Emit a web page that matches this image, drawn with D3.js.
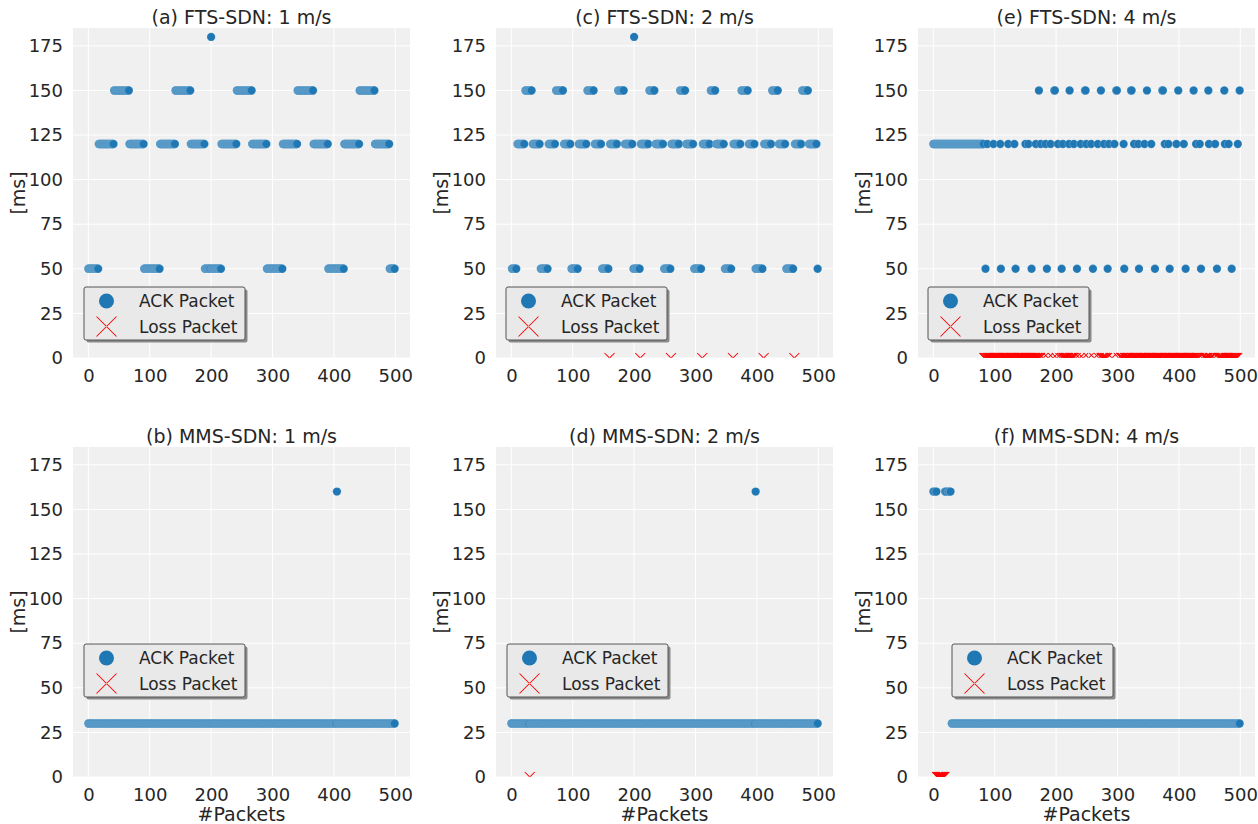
<!DOCTYPE html>
<html>
<head>
<meta charset="utf-8">
<script src="https://cdn.jsdelivr.net/npm/d3@7"></script>
<style>
  body { margin: 0; background: #fff; }
  text { font-family: "DejaVu Sans", sans-serif; fill: #262626; }
</style>
</head>
<body>
<svg id="chart" width="1258" height="824"></svg>
<script>
// tick values
const xTicks = [0, 100, 200, 300, 400, 500];
const yTicks = [0, 25, 50, 75, 100, 125, 150, 175];

const titles = ["(a) FTS-SDN: 1 m/s", "(b) MMS-SDN: 1 m/s",
                "(c) FTS-SDN: 2 m/s", "(d) MMS-SDN: 2 m/s",
                "(e) FTS-SDN: 4 m/s", "(f) MMS-SDN: 4 m/s"];
const legendLabels = ["ACK Packet", "Loss Packet"];

// ACK packets as runs of packet index: [first, last, ms]
const ftsA_ack = [[0,16,50],[17,41,120],[42,66,150],[67,90,120],[91,116,50],[117,141,120],
  [142,166,150],[167,189,120],[190,199,50],[200,200,180],[201,216,50],[217,241,120],
  [242,266,150],[267,290,120],[291,316,50],[317,340,120],[341,366,150],[367,390,120],
  [391,416,50],[417,441,120],[442,466,150],[467,490,120],[491,499,50]];
const ftsA_loss = [];

const ftsB_ack = [[1,8,50],[10,21,120],[23,33,150],[35,46,120],[48,59,50],[61,71,120],
  [73,84,150],[86,96,120],[98,108,50],[110,122,120],[124,134,150],[136,146,120],
  [148,158,50],[161,172,120],[174,183,150],[185,197,120],[199,199,50],[200,200,180],
  [201,209,50],[211,223,120],[225,233,150],[235,247,120],[249,259,50],[261,273,120],
  [275,283,150],[285,296,120],[298,309,50],[312,323,120],[325,332,150],[334,346,120],
  [348,358,50],[362,373,120],[375,385,150],[387,396,120],[398,409,50],[412,423,120],
  [425,434,150],[436,446,120],[448,459,50],[462,472,120],[474,483,150],[485,497,120],
  [499,499,50]];
const ftsB_loss = [160, 210, 260, 311, 361, 411, 461];

const ftsC_ack = [[0,82,120]];
const ftsC_dots120 = [88,98,109,122,132,150,155,167,175,183,191,203,211,221,229,240,249,
  257,268,278,286,295,310,327,334,344,355,377,383,396,408,428,434,449,459,475,481,496];
const ftsC_dots150 = [172,197,198,222,247,248,273,298,299,322,323,348,373,374,399,424,448,474,499];
const ftsC_dots50 = [85,110,134,160,185,209,234,260,284,311,335,361,385,411,436,462,486];
const ftsC_lossRuns = [[83,174],[209,228],[273,281],[306,432],[442,453],[466,495]];
const ftsC_lossDots = [179,187,195,201,207,232,238,244,253,262,270,283,291,302,438,457,464];

const mmsA_ack = [[0,404,30],[405,405,160],[406,499,30]];
const mmsA_loss = [];

const mmsB_ack = [[0,29,30],[31,397,30],[398,398,160],[399,499,30]];
const mmsB_loss = [30];

const mmsC_ack = [[0,1,160],[4,5,160],[19,21,160],[24,25,160],[27,28,160],[30,499,30]];
const mmsC_lossRuns = [[6,18]];

// layout
const W = 337, H = 330;
const colLeft = [73, 496, 918];
const rowTop = [28, 447];
const legendPos = [[11,259],[11,197],[10,259],[11,197],[10,259],[34,197]];

function expandRuns(runs) {
  return runs.flatMap(r => d3.range(r[0], r[1] + 1).map(i => ({i: i, ms: r[2]})));
}
function dots(list, ms) {
  return list.map(i => ({i: i, ms: ms}));
}
function lossFrom(runs, extra, ack) {
  const taken = new Set(ack.map(d => d.i));
  const out = runs.flatMap(r => d3.range(r[0], r[1] + 1)).filter(i => !taken.has(i));
  return out.concat(extra).sort((a, b) => a - b);
}

const ackC = expandRuns(ftsC_ack).concat(dots(ftsC_dots120, 120), dots(ftsC_dots150, 150), dots(ftsC_dots50, 50));

const panels = [
  {ack: expandRuns(ftsA_ack), loss: ftsA_loss},
  {ack: expandRuns(mmsA_ack), loss: mmsA_loss},
  {ack: expandRuns(ftsB_ack), loss: ftsB_loss},
  {ack: expandRuns(mmsB_ack), loss: mmsB_loss},
  {ack: ackC, loss: lossFrom(ftsC_lossRuns, ftsC_lossDots, ackC)},
  {ack: expandRuns(mmsC_ack), loss: lossFrom(mmsC_lossRuns, [], expandRuns(mmsC_ack))}
];

const svg = d3.select("#chart");

const x = d3.scaleLinear().domain([-25, 524]).range([0, W]);
const y = d3.scaleLinear().domain([0, 185]).range([H, 0]);

// "x" marker of half-size s, as two thin filled bars
function xPath(s, w) {
  const p = d3.path();
  const h = w / 2 / Math.SQRT2;
  p.moveTo(-s - h, -s + h); p.lineTo(-s + h, -s - h); p.lineTo(s + h, s - h); p.lineTo(s - h, s + h); p.closePath();
  p.moveTo(-s - h, s - h); p.lineTo(-s + h, s + h); p.lineTo(s + h, -s + h); p.lineTo(s - h, -s - h); p.closePath();
  return p.toString();
}

panels.forEach((p, k) => {
  const col = Math.floor(k / 2), row = k % 2;
  const g = svg.append("g")
    .attr("transform", `translate(${colLeft[col]}, ${rowTop[row]})`);

  g.append("rect").attr("width", W).attr("height", H).attr("fill", "#f0f0f0");

  // grid
  g.append("g").selectAll("line").data(xTicks).join("line")
    .attr("x1", d => x(d)).attr("x2", d => x(d)).attr("y1", 0).attr("y2", H)
    .attr("stroke", "#fff").attr("stroke-width", 1);
  g.append("g").selectAll("line").data(yTicks).join("line")
    .attr("y1", d => y(d)).attr("y2", d => y(d)).attr("x1", 0).attr("x2", W)
    .attr("stroke", "#fff").attr("stroke-width", 1);

  // axes
  const ax = g.append("g").attr("transform", `translate(0, ${H})`)
    .call(d3.axisBottom(x).tickValues(xTicks).tickSize(0).tickPadding(11));
  const ay = g.append("g")
    .call(d3.axisLeft(y).tickValues(yTicks).tickSize(0).tickPadding(10));
  [ax, ay].forEach(a => {
    a.select(".domain").remove();
    a.selectAll("text").style("font-size", "18px").attr("fill", "#262626")
      .style("font-family", "DejaVu Sans");
  });

  g.append("text").attr("x", W / 2).attr("y", -4)
    .attr("text-anchor", "middle").style("font-size", "19px")
    .text(titles[k]);

  g.append("text")
    .attr("transform", `translate(-55, ${H / 2}) rotate(-90)`)
    .attr("text-anchor", "middle").attr("dominant-baseline", "central")
    .style("font-size", "19px").text("[ms]");

  if (row === 1) {
    g.append("text").attr("x", W / 2).attr("y", H + 44)
      .attr("text-anchor", "middle").style("font-size", "19px").text("#Packets");
  }

  // points
  const clipId = "clip" + k;
  g.append("clipPath").attr("id", clipId)
    .append("rect").attr("width", W).attr("height", H);
  const pg = g.append("g").attr("clip-path", `url(#${clipId})`);

  const ack = p.ack.slice().sort((a, b) => a.i - b.i);
  pg.append("g").selectAll("circle").data(ack).join("circle")
    .attr("cx", d => x(d.i)).attr("cy", d => y(d.ms)).attr("r", 4.2)
    .attr("fill", "#1f77b4").attr("stroke", "#fff").attr("stroke-width", 0.2);

  pg.append("g").selectAll("path").data(p.loss).join("path")
    .attr("transform", d => `translate(${x(d)}, ${y(0)})`)
    .attr("d", xPath(5, 1))
    .attr("fill", "#ff0000");

  // legend
  const lg = g.append("g")
    .attr("transform", `translate(${legendPos[k][0]}, ${legendPos[k][1]})`);
  lg.append("rect").attr("x", 2.5).attr("y", 2.5).attr("width", 161).attr("height", 53)
    .attr("rx", 2).attr("fill", "#8a8a8a");
  lg.append("rect").attr("width", 161).attr("height", 53).attr("rx", 2)
    .attr("fill", "#e9e9e9").attr("stroke", "#555").attr("stroke-width", 1);
  lg.append("circle").attr("cx", 22.5).attr("cy", 14).attr("r", 7.5).attr("fill", "#1f77b4");
  lg.append("path").attr("transform", "translate(22.5, 39.5)")
    .attr("d", xPath(10, 1)).attr("fill", "#ff0000");
  lg.selectAll("text.lbl").data(legendLabels).join("text").attr("class", "lbl")
    .attr("x", 55).attr("y", (d, i) => 14 + i * 25.5)
    .attr("dominant-baseline", "central").style("font-size", "17px")
    .text(d => d);
});
</script>
</body>
</html>
